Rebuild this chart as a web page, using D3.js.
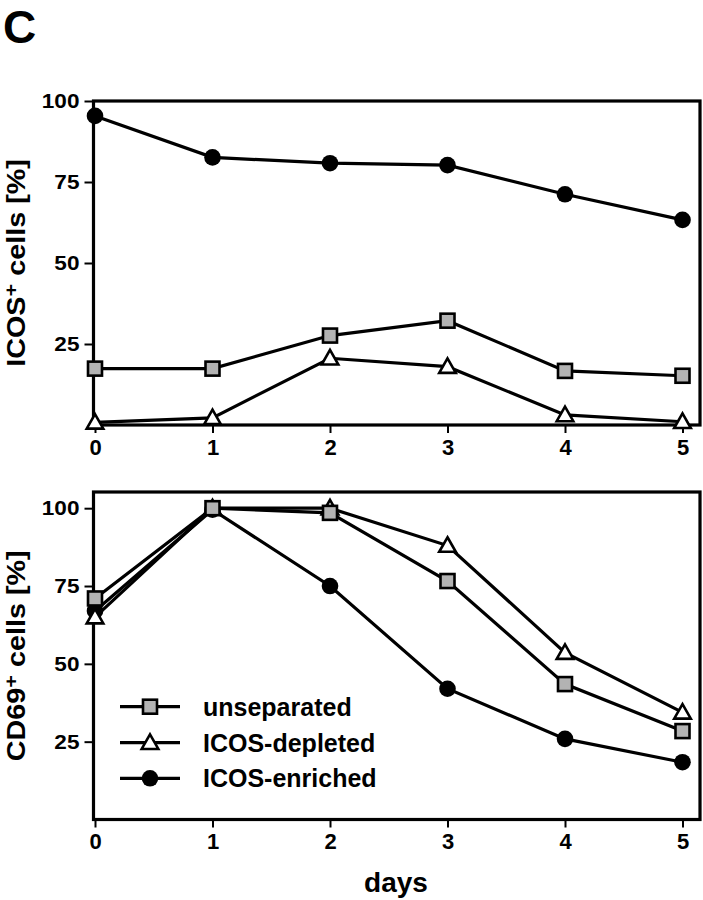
<!DOCTYPE html>
<html><head><meta charset="utf-8">
<script src="https://cdn.jsdelivr.net/npm/d3@7"></script>
<style>
body{margin:0;background:#fff;}
text{font-family:"Liberation Sans",Arial,sans-serif;font-weight:bold;fill:#000;}
</style></head>
<body><svg id="c" width="703" height="900"></svg>
<script>
const days = [0,1,2,3,4,5];
const seriesNames = ["unseparated","ICOS-depleted","ICOS-enriched"];
// top panel: ICOS+ cells [%]
const icosUnseparated = [17.4,17.4,27.6,32.2,16.7,15.2];
const icosDepleted    = [0.8,2.2,20.6,18,3.1,1];
const icosEnriched    = [95.4,82.6,80.8,80.2,71.2,63.3];
// bottom panel: CD69+ cells [%]
const cd69Unseparated = [71,100,98.5,76.6,43.5,28.4];
const cd69Depleted    = [65,100,100,88,53.6,34.4];
const cd69Enriched    = [67,99.5,75,42,25.9,18.4];
const yTicks = [25,50,75,100];

const svg = d3.select("#c");
const x = d3.scaleLinear().domain([0,5]).range([95,682.5]);
const xLeft = 93.5, xRight = 700;

svg.append("text").attr("x",3).attr("y",43).style("font-size","46px").text("C");

const markerDefs = {
  "unseparated": {type:"square"},
  "ICOS-depleted": {type:"triangle"},
  "ICOS-enriched": {type:"circle"}
};

function drawMarker(g, type, cx, cy){
  if(type==="square"){
    g.append("rect").attr("x",cx-7).attr("y",cy-7).attr("width",14).attr("height",14)
      .attr("fill","#b3b3b3").attr("stroke","#000").attr("stroke-width",2.6);
  } else if(type==="triangle"){
    const s = 8.3;
    g.append("path").attr("d",`M${cx},${cy-s}L${cx+s},${cy+s*0.75}L${cx-s},${cy+s*0.75}Z`)
      .attr("fill","#fff").attr("stroke","#000").attr("stroke-width",2.6).attr("stroke-linejoin","miter");
  } else {
    g.append("circle").attr("cx",cx).attr("cy",cy).attr("r",8.3).attr("fill","#000");
  }
}

function panel(opts){
  const y = d3.scaleLinear().domain([0,opts.ymax]).range([opts.bottom,opts.top]);
  const g = svg.append("g");
  // frame
  g.append("rect").attr("x",xLeft).attr("y",opts.top).attr("width",xRight-xLeft).attr("height",opts.bottom-opts.top)
    .attr("fill","none").attr("stroke","#000").attr("stroke-width",3.2);
  // y axis
  const ya = g.append("g").attr("transform",`translate(${xLeft},0)`)
    .call(d3.axisLeft(y).tickValues(yTicks).tickSize(9).tickPadding(4));
  ya.select(".domain").remove();
  ya.selectAll("line").attr("stroke","#000").attr("stroke-width",2);
  ya.selectAll(".tick text").each(function(){
    const t = d3.select(this);
    const tx = +t.attr("x");
    t.attr("x",null).attr("transform",`translate(${tx-1},0) scale(1.13,1)`);
  }).style("font-size","20px").style("font-family",'"Liberation Sans",Arial,sans-serif').style("font-weight","bold");
  // x axis
  const xa = g.append("g").attr("transform",`translate(0,${opts.bottom})`)
    .call(d3.axisBottom(x).tickValues(days).tickFormat(d3.format("d")).tickSize(8).tickPadding(6));
  xa.select(".domain").remove();
  xa.selectAll("line").attr("stroke","#000").attr("stroke-width",2);
  xa.selectAll("text").style("font-size","22px").style("font-family",'"Liberation Sans",Arial,sans-serif').style("font-weight","bold");
  // y title
  const t = g.append("text").attr("transform",`translate(25,${(opts.top+opts.bottom)/2}) rotate(-90) scale(1.15,1)`)
    .attr("text-anchor","middle").style("font-size","25px");
  t.append("tspan").text(opts.titleA);
  t.append("tspan").attr("dy",-8).style("font-size","19px").text("+");
  t.append("tspan").attr("dy",8).text(" cells [%]");
  // lines
  const line = d3.line().x((d,i)=>x(days[i])).y(d=>y(d));
  opts.series.forEach(s=>{
    g.append("path").attr("d",line(s.values)).attr("fill","none").attr("stroke","#000").attr("stroke-width",3.2);
  });
  opts.series.forEach(s=>{
    s.values.forEach((v,i)=>drawMarker(g, markerDefs[s.name].type, x(days[i]), y(v)));
  });
  return y;
}

panel({top:101,bottom:425,ymax:100,titleA:"ICOS",series:[
  {name:"unseparated",values:icosUnseparated},
  {name:"ICOS-depleted",values:icosDepleted},
  {name:"ICOS-enriched",values:icosEnriched}]});

panel({top:492,bottom:819.5,ymax:105.2,titleA:"CD69",series:[
  {name:"ICOS-enriched",values:cd69Enriched},
  {name:"ICOS-depleted",values:cd69Depleted},
  {name:"unseparated",values:cd69Unseparated}]});

// legend
const lg = svg.append("g");
const legendY = [706.7,742.7,778.3];
seriesNames.forEach((n,i)=>{
  lg.append("line").attr("x1",120).attr("x2",180).attr("y1",legendY[i]).attr("y2",legendY[i])
    .attr("stroke","#000").attr("stroke-width",3.2);
  drawMarker(lg, markerDefs[n].type, 150, legendY[i]);
  lg.append("text").attr("x",203).attr("y",legendY[i]).attr("dy","0.36em").style("font-size","25px").text(n);
});

svg.append("text").attr("x",396).attr("y",892).attr("text-anchor","middle").style("font-size","28px").text("days");
</script></body></html>
